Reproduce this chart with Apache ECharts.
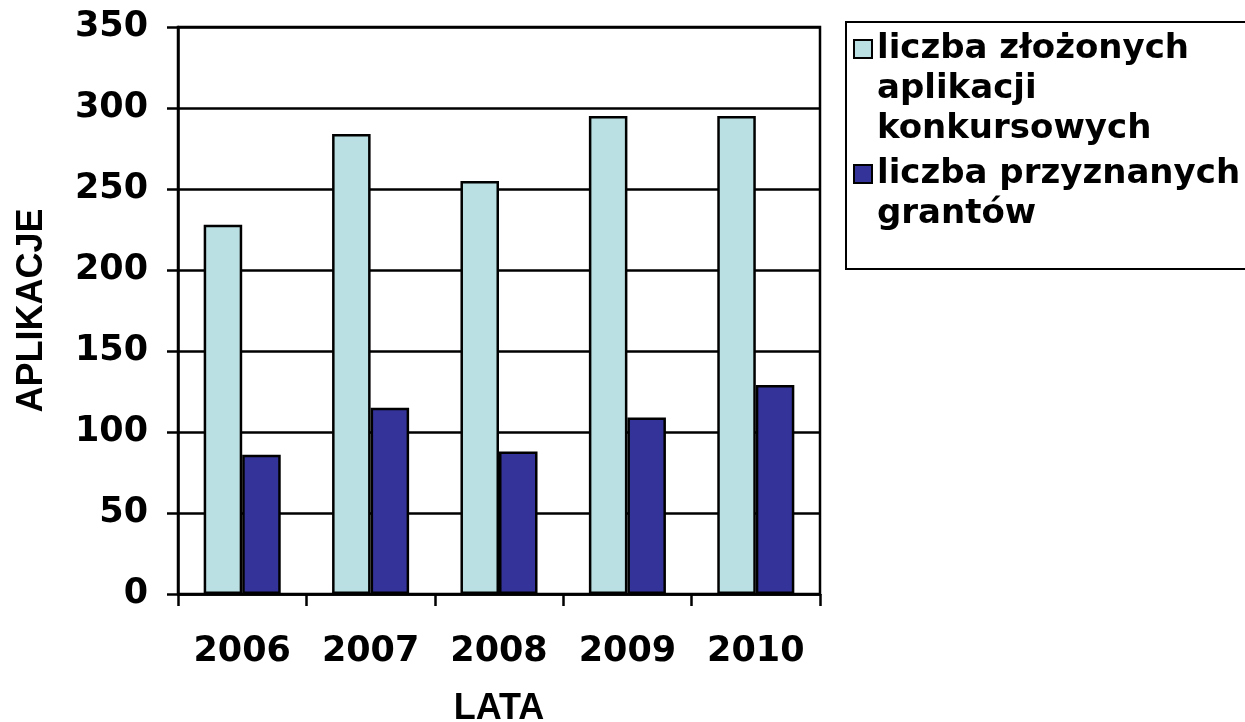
<!DOCTYPE html>
<html><head><meta charset="utf-8">
<script src="https://cdn.jsdelivr.net/npm/echarts@6/dist/echarts.min.js"></script>
<style>html,body{margin:0;padding:0;background:#fff}#c{width:1245px;height:722px}</style>
</head><body><div id="c"></div>
<script>
const categories = ['2006', '2007', '2008', '2009', '2010'];
const submitted = [228, 284, 255, 295, 295];
const granted = [86, 115, 88, 109, 129];
const seriesNames = ['liczba złożonych\naplikacji\nkonkursowych', 'liczba przyznanych\ngrantów'];
const yTicks = [0, 50, 100, 150, 200, 250, 300, 350];

const chart = echarts.init(document.getElementById('c'));
const tickFont = {fontFamily: 'DejaVu Sans', fontWeight: 'bold', fontSize: 35, color: '#000'};
const nameFont = {fontFamily: 'Liberation Sans', fontWeight: 'bold', fontSize: 36, color: '#000'};
const LW = 2.5;
const LH = 40;
// Legend text is centred on its icon; leading blank lines keep the icon beside the first line.
function legendFor(i, firstLineY) {
  const n = seriesNames[i].split('\n').length;
  const pad = '\n'.repeat(n - 1);
  return {
    orient: 'vertical', left: 853, top: firstLineY - (n - 1) * LH - LH / 2, padding: 0,
    itemWidth: 18, itemHeight: 18, itemGap: 0, icon: 'rect',
    itemStyle: {borderColor: '#000', borderWidth: 2},
    formatter: name => pad + name,
    textStyle: {fontFamily: 'DejaVu Sans', fontWeight: 'bold', fontSize: 34, color: '#000', lineHeight: LH},
    data: [seriesNames[i]]
  };
}
chart.setOption({
  animation: false,
  backgroundColor: '#fff',
  grid: {left: 178, right: 425, top: 27, bottom: 128, show: true, borderColor: '#000', borderWidth: LW, outerBoundsMode: 'none'},
  graphic: [{type: 'rect', shape: {x: 846, y: 22, width: 420, height: 247}, style: {fill: 'none', stroke: '#000', lineWidth: 2}, z: 0}],
  legend: [legendFor(0, 49), legendFor(1, 174)],
  xAxis: {
    type: 'category', data: categories,
    name: 'LATA', nameLocation: 'middle', nameGap: 97, nameTextStyle: nameFont,
    axisLine: {lineStyle: {color: '#000', width: LW}},
    axisTick: {show: true, length: 12, lineStyle: {color: '#000', width: LW}},
    axisLabel: Object.assign({margin: 40}, tickFont)
  },
  yAxis: {
    type: 'value', min: 0, max: 350, interval: 50,
    name: 'APLIKACJE', nameLocation: 'middle', nameGap: 128, nameTextStyle: nameFont,
    axisLine: {show: true, lineStyle: {color: '#000', width: LW}},
    axisTick: {show: true, length: 11, lineStyle: {color: '#000', width: LW}},
    axisLabel: Object.assign({margin: 30, formatter: v => yTicks.includes(v) ? String(v) : ''}, tickFont),
    splitLine: {lineStyle: {color: '#000', width: LW}}
  },
  series: [
    {name: seriesNames[0], type: 'bar', data: submitted, barGap: '0%', barCategoryGap: '40%',
     itemStyle: {color: '#BBE0E3', borderColor: '#000', borderWidth: LW}},
    {name: seriesNames[1], type: 'bar', data: granted,
     itemStyle: {color: '#333399', borderColor: '#000', borderWidth: LW}}
  ]
});
</script></body></html>
